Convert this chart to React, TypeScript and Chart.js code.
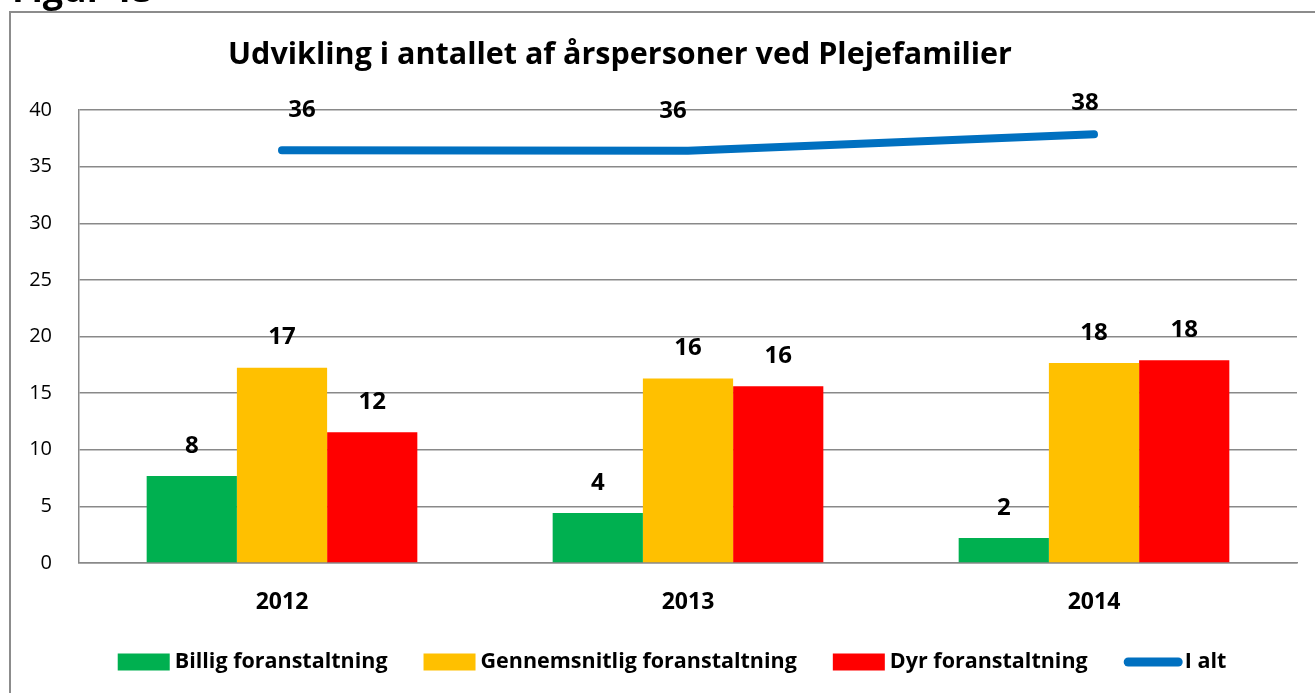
import React, { useEffect, useRef } from "react";
import { Chart, registerables } from "chart.js";

Chart.register(...registerables);

const figureLabel = "Figur 13";
const titleText = "Udvikling i antallet af årspersoner ved Plejefamilier";
const categories = ["2012", "2013", "2014"];
const seriesLabels = [
  "Billig foranstaltning",
  "Gennemsnitlig foranstaltning",
  "Dyr foranstaltning",
  "I alt",
];
const billig = [7.68, 4.41, 2.2];
const gennemsnitlig = [17.25, 16.3, 17.65];
const dyr = [11.55, 15.6, 17.9];
const iAlt = [36.45, 36.4, 37.85];
const yMin = 0;
const yMax = 40;
const yStep = 5;

// horizontal nudges of the "I alt" data labels (as placed in the original)
const lineLabelShift = [20, -15, -9];

const FONT = "'Open Sans', Lato, sans-serif";
const GRID = "#898989";

const framePlugin = {
  id: "frame",
  beforeDraw(chart: any) {
    const ctx = chart.ctx;
    ctx.save();
    ctx.fillStyle = "#ffffff";
    ctx.fillRect(0, 0, chart.width, chart.height);
    ctx.strokeStyle = "#8c8c8c";
    ctx.lineWidth = 2;
    ctx.beginPath();
    ctx.moveTo(10, chart.height + 5);
    ctx.lineTo(10, 12);
    ctx.lineTo(chart.width + 5, 12);
    ctx.stroke();
    ctx.fillStyle = "#000";
    ctx.font = `bold 36px ${FONT}`;
    ctx.textAlign = "left";
    ctx.textBaseline = "alphabetic";
    ctx.fillText(figureLabel, 12, 2);
    ctx.font = `bold 30.5px ${FONT}`;
    ctx.textAlign = "center";
    ctx.textBaseline = "middle";
    ctx.fillText(titleText, 620, 55);
    ctx.restore();
  },
};

const valueLabelsPlugin = {
  id: "valueLabels",
  afterDatasetsDraw(chart: any) {
    const ctx = chart.ctx;
    ctx.save();
    ctx.font = `bold 24px ${FONT}`;
    ctx.fillStyle = "#000";
    ctx.textAlign = "center";
    ctx.textBaseline = "middle";
    chart.data.datasets.forEach((ds: any, i: number) => {
      const meta = chart.getDatasetMeta(i);
      const isLine = ds.type === "line";
      meta.data.forEach((el: any, j: number) => {
        const v = ds.data[j];
        let y = el.y - (isLine ? 40 : 30);
        let x = el.x;
        if (isLine) {
          y = Math.max(y, 103);
          x += lineLabelShift[j] || 0;
        }
        ctx.fillText(String(Math.round(v)), x, y);
      });
    });
    ctx.restore();
  },
};

const legendPlugin = {
  id: "customLegend",
  afterDraw(chart: any) {
    const ctx = chart.ctx;
    ctx.save();
    ctx.font = `bold 21.5px ${FONT}`;
    ctx.textBaseline = "middle";
    ctx.textAlign = "left";
    const items = chart.data.datasets.map((ds: any) => {
      const isLine = ds.type === "line";
      const markerW = isLine ? 59 : 52;
      const gap = isLine ? 2 : 5;
      const tw = ctx.measureText(ds.label).width;
      return { ds, isLine, markerW, gap, tw, w: markerW + gap + tw };
    });
    const itemGap = 36;
    const total =
      items.reduce((s: number, it: any) => s + it.w, 0) + itemGap * (items.length - 1);
    let x = 672 - total / 2;
    const y = 662;
    items.forEach((it: any) => {
      if (it.isLine) {
        ctx.strokeStyle = it.ds.borderColor;
        ctx.lineWidth = 9;
        ctx.lineCap = "round";
        ctx.beginPath();
        ctx.moveTo(x + 4.5, y);
        ctx.lineTo(x + it.markerW - 4.5, y);
        ctx.stroke();
      } else {
        ctx.fillStyle = it.ds.backgroundColor;
        ctx.fillRect(x, y - 8.5, it.markerW, 17);
      }
      ctx.fillStyle = "#000";
      ctx.fillText(it.ds.label, x + it.markerW + it.gap, y);
      x += it.w + itemGap;
    });
    ctx.restore();
  },
};

export default function App() {
  const ref = useRef<HTMLCanvasElement>(null);

  useEffect(() => {
    if (!ref.current) return;
    const chart = new Chart(ref.current, {
      type: "bar",
      data: {
        labels: categories,
        datasets: [
          {
            type: "bar",
            label: seriesLabels[0],
            data: billig,
            backgroundColor: "#00B050",
            borderWidth: 0,
            order: 1,
          },
          {
            type: "bar",
            label: seriesLabels[1],
            data: gennemsnitlig,
            backgroundColor: "#FFC000",
            borderWidth: 0,
            order: 1,
          },
          {
            type: "bar",
            label: seriesLabels[2],
            data: dyr,
            backgroundColor: "#FF0000",
            borderWidth: 0,
            order: 1,
          },
          {
            type: "line",
            label: seriesLabels[3],
            data: iAlt,
            borderColor: "#0070C0",
            backgroundColor: "#0070C0",
            borderWidth: 8,
            borderCapStyle: "round",
            pointRadius: 0,
            tension: 0,
            order: 0,
          } as any,
        ],
      },
      options: {
        responsive: false,
        animation: false,
        devicePixelRatio: 1,
        layout: { padding: { top: 110, bottom: 80, left: 0, right: 18 } },
        datasets: {
          bar: { categoryPercentage: 1 / 1.5, barPercentage: 1 },
        },
        plugins: {
          legend: { display: false },
          title: { display: false },
          tooltip: { enabled: false },
        },
        scales: {
          x: {
            grid: { display: false, drawTicks: false },
            border: { display: true, color: GRID, width: 1.5 },
            ticks: {
              color: "#000",
              font: { family: FONT, size: 23, weight: "bold" },
              padding: 26,
            },
            afterFit(scale: any) {
              scale.height = 50;
            },
          },
          y: {
            min: yMin,
            max: yMax,
            ticks: {
              stepSize: yStep,
              color: "#000",
              font: { family: FONT, size: 20 },
              padding: 27,
            },
            grid: { color: GRID, lineWidth: 1.5, drawTicks: false },
            border: { display: true, color: GRID, width: 1.5 },
            afterFit(scale: any) {
              scale.width = 79;
            },
          },
        },
      },
      plugins: [framePlugin, valueLabelsPlugin, legendPlugin],
    });
    return () => chart.destroy();
  }, []);

  return (
    <div style={{ position: "absolute", left: 0, top: 0, width: 1315, height: 693 }}>
      <canvas ref={ref} width={1315} height={693} style={{ display: "block" }} />
    </div>
  );
}
